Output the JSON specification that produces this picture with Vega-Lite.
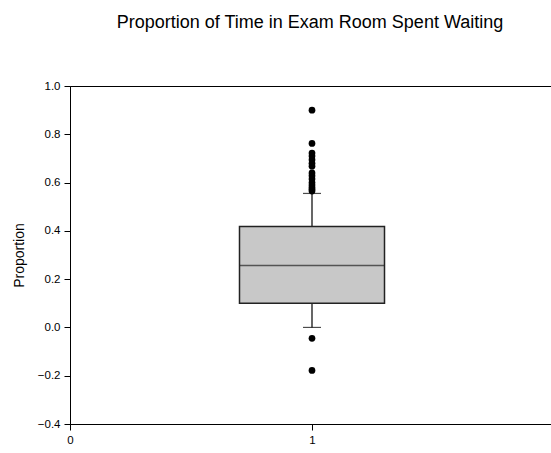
{
  "$schema": "https://vega.github.io/schema/vega-lite/v6.json",
  "autosize": "none",
  "width": 484,
  "height": 338,
  "padding": {"left": 70, "top": 86, "right": 0, "bottom": 29},
  "background": "white",
  "config": {
    "view": {"stroke": "black", "strokeWidth": 1},
    "font": "Liberation Sans",
    "axis": {
      "domainColor": "black", "tickColor": "black", "labelColor": "black", "titleColor": "black",
      "grid": false, "labelFontSize": 11.5, "tickSize": 6, "labelFont": "Liberation Sans", "titleFont": "Liberation Sans", "titleFontWeight": "normal",
      "labelFlush": false, "labelOverlap": false
    }
  },
  "title": {
    "text": "Proportion of Time in Exam Room Spent Waiting",
    "font": "Liberation Sans", "fontSize": 18, "fontWeight": "normal", "color": "black",
    "anchor": "middle", "dx": -2, "offset": 34, "baseline": "alphabetic"
  },
  "datasets": {
    "box": [{"x": 1, "lower": 0.0, "q1": 0.1, "median": 0.257, "q3": 0.418, "upper": 0.555}],
    "outliers": [
      {"x": 1, "value": 0.90}, {"x": 1, "value": 0.762}, {"x": 1, "value": 0.722},
      {"x": 1, "value": 0.71}, {"x": 1, "value": 0.695}, {"x": 1, "value": 0.68},
      {"x": 1, "value": 0.668}, {"x": 1, "value": 0.64}, {"x": 1, "value": 0.628},
      {"x": 1, "value": 0.615}, {"x": 1, "value": 0.60}, {"x": 1, "value": 0.59},
      {"x": 1, "value": 0.58}, {"x": 1, "value": 0.572}, {"x": 1, "value": 0.565},
      {"x": 1, "value": -0.045}, {"x": 1, "value": -0.178}
    ]
  },
  "layer": [
    {
      "data": {"name": "box"},
      "mark": {"type": "rule", "color": "black", "strokeWidth": 1.2},
      "encoding": {
        "x": {"field": "x", "type": "quantitative", "scale": {"domain": [0, 2], "nice": false, "padding": 0, "zero": false}, "axis": {"values": [0, 1, 2], "format": ".0f", "title": null, "labelPadding": 4}},
        "y": {"field": "q3", "type": "quantitative", "scale": {"domain": [-0.4, 1.0], "nice": false}, "axis": {"values": [-0.4, -0.2, 0, 0.2, 0.4, 0.6, 0.8, 1.0], "format": ".1f", "title": "Proportion", "titleFontSize": 14, "titlePadding": 11, "labelPadding": 4}},
        "y2": {"field": "upper"}
      }
    },
    {
      "data": {"name": "box"},
      "mark": {"type": "rule", "color": "black", "strokeWidth": 1.2},
      "encoding": {
        "x": {"field": "x", "type": "quantitative"},
        "y": {"field": "lower", "type": "quantitative"},
        "y2": {"field": "q1"}
      }
    },
    {
      "data": {"name": "box"},
      "mark": {"type": "bar", "size": 145, "fill": "#c8c8c8", "stroke": "#222222", "strokeWidth": 1.5},
      "encoding": {
        "x": {"field": "x", "type": "quantitative"},
        "y": {"field": "q1", "type": "quantitative"},
        "y2": {"field": "q3"}
      }
    },
    {
      "data": {"name": "box"},
      "mark": {"type": "tick", "orient": "horizontal", "size": 145, "thickness": 1.5, "color": "#222222"},
      "encoding": {
        "x": {"field": "x", "type": "quantitative"},
        "y": {"field": "median", "type": "quantitative"}
      }
    },
    {
      "data": {"name": "box"},
      "mark": {"type": "tick", "orient": "horizontal", "size": 18, "thickness": 1.2, "color": "black"},
      "encoding": {
        "x": {"field": "x", "type": "quantitative"},
        "y": {"field": "upper", "type": "quantitative"}
      }
    },
    {
      "data": {"name": "box"},
      "mark": {"type": "tick", "orient": "horizontal", "size": 18, "thickness": 1.2, "color": "black"},
      "encoding": {
        "x": {"field": "x", "type": "quantitative"},
        "y": {"field": "lower", "type": "quantitative"}
      }
    },
    {
      "data": {"name": "outliers"},
      "mark": {"type": "point", "shape": "circle", "filled": true, "size": 45, "color": "black", "opacity": 1},
      "encoding": {
        "x": {"field": "x", "type": "quantitative"},
        "y": {"field": "value", "type": "quantitative"}
      }
    }
  ]
}
